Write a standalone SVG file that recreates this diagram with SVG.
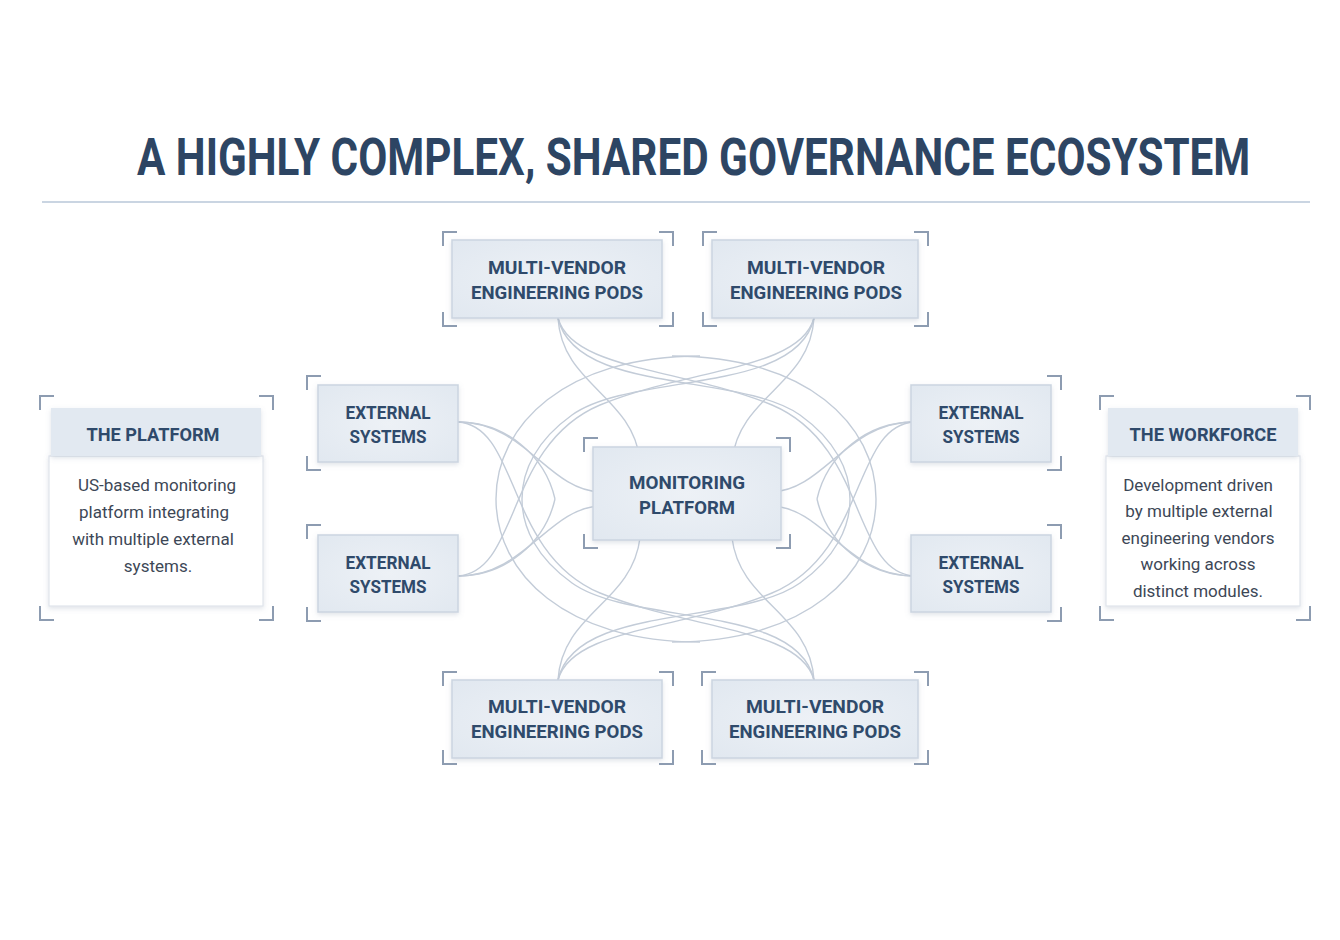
<svg xmlns="http://www.w3.org/2000/svg" xmlns:xlink="http://www.w3.org/1999/xlink" width="1340" height="940" viewBox="0 0 1340 940">
<defs>
<style>
.title{font-family:Roboto,"Liberation Sans",sans-serif;font-weight:700;font-size:52px;fill:#2d4563}
.lbl{font-family:Roboto,"Liberation Sans",sans-serif;font-weight:700;font-size:19px;fill:#2f4a6b;text-anchor:middle}
.body{font-family:Roboto,"Liberation Sans",sans-serif;font-size:17px;fill:#3d4756;text-anchor:middle}
.box{fill:url(#g1);stroke:#cbd5e1;stroke-width:1.5}
.hdr{fill:#e2e9f1;stroke:none}
.card{fill:#ffffff;stroke:#dfe5ec;stroke-width:1.2}
.br{fill:none;stroke:#8d9cb1;stroke-width:2}
.cn{fill:none;stroke:#c3ccd8;stroke-width:1.4}
</style>
<radialGradient id="g1" cx="50%" cy="50%" r="70%">
<stop offset="0" stop-color="#edf1f6"/>
<stop offset="1" stop-color="#e1e8f0"/>
</radialGradient>
<filter id="sh" x="-10%" y="-10%" width="120%" height="130%">
<feDropShadow dx="0" dy="2" stdDeviation="2.5" flood-color="#7d8ea5" flood-opacity="0.25"/>
</filter>
</defs>
<rect width="1340" height="940" fill="#ffffff"/>

<g id="title">
<text class="title" transform="translate(137,175) scale(0.9,1)" x="0" y="0" textLength="1237" lengthAdjust="spacingAndGlyphs">A HIGHLY COMPLEX, SHARED GOVERNANCE ECOSYSTEM</text>
<line x1="42" y1="202" x2="1310" y2="202" stroke="#b9c7d9" stroke-width="1.5"/>
</g>

<g id="connectors">
<g id="q1">
<path class="cn" d="M558,318 C562,385 632,395 640,460"/>
<path class="cn" d="M458,422 C525,422 548,490 600,492"/>
<path class="cn" d="M700,356 C565,356 496,425 496,499"/>
<path class="cn" d="M458,576 C520,572 505,445 600,405 C690,368 800,370 814,318"/>
<path class="cn" d="M558,318 C575,395 740,372 800,415 C835,440 850,470 850,499"/>
<path class="cn" d="M458,422 C505,422 545,455 555,499"/>
</g>
<use xlink:href="#q1" href="#q1" transform="matrix(-1 0 0 1 1372 0)"/>
<use xlink:href="#q1" href="#q1" transform="matrix(1 0 0 -1 0 998)"/>
<use xlink:href="#q1" href="#q1" transform="matrix(-1 0 0 -1 1372 998)"/>
</g>

<g id="pods-top-left">
<rect class="box" x="452" y="240" width="210" height="78" filter="url(#sh)"/>
<path class="br" d="M443,246 V232 H457 M659,232 H673 V246 M443,312 V326 H457 M659,326 H673 V312"/>
<text class="lbl" x="557" y="274" textLength="138" lengthAdjust="spacingAndGlyphs">MULTI-VENDOR</text>
<text class="lbl" x="557" y="299" textLength="172" lengthAdjust="spacingAndGlyphs">ENGINEERING PODS</text>
</g>
<g id="pods-top-right">
<rect class="box" x="712" y="240" width="206" height="78" filter="url(#sh)"/>
<path class="br" d="M703,246 V232 H717 M914,232 H928 V246 M703,312 V326 H717 M914,326 H928 V312"/>
<text class="lbl" x="816" y="274" textLength="138" lengthAdjust="spacingAndGlyphs">MULTI-VENDOR</text>
<text class="lbl" x="816" y="299" textLength="172" lengthAdjust="spacingAndGlyphs">ENGINEERING PODS</text>
</g>
<g id="pods-bottom-left">
<rect class="box" x="452" y="680" width="210" height="78" filter="url(#sh)"/>
<path class="br" d="M443,686 V672 H457 M659,672 H673 V686 M443,750 V764 H457 M659,764 H673 V750"/>
<text class="lbl" x="557" y="713" textLength="138" lengthAdjust="spacingAndGlyphs">MULTI-VENDOR</text>
<text class="lbl" x="557" y="738" textLength="172" lengthAdjust="spacingAndGlyphs">ENGINEERING PODS</text>
</g>
<g id="pods-bottom-right">
<rect class="box" x="712" y="680" width="206" height="78" filter="url(#sh)"/>
<path class="br" d="M702,686 V672 H716 M914,672 H928 V686 M702,750 V764 H716 M914,764 H928 V750"/>
<text class="lbl" x="815" y="713" textLength="138" lengthAdjust="spacingAndGlyphs">MULTI-VENDOR</text>
<text class="lbl" x="815" y="738" textLength="172" lengthAdjust="spacingAndGlyphs">ENGINEERING PODS</text>
</g>

<g id="ext-left-top">
<rect class="box" x="318" y="385" width="140" height="77" filter="url(#sh)"/>
<path class="br" d="M321,376 H307 V390 M307,456 V470 H321"/>
<text class="lbl" x="388" y="419" textLength="85" lengthAdjust="spacingAndGlyphs">EXTERNAL</text>
<text class="lbl" x="388" y="443" textLength="77" lengthAdjust="spacingAndGlyphs">SYSTEMS</text>
</g>
<g id="ext-left-bottom">
<rect class="box" x="318" y="535" width="140" height="77" filter="url(#sh)"/>
<path class="br" d="M321,525 H307 V539 M307,607 V621 H321"/>
<text class="lbl" x="388" y="569" textLength="85" lengthAdjust="spacingAndGlyphs">EXTERNAL</text>
<text class="lbl" x="388" y="593" textLength="77" lengthAdjust="spacingAndGlyphs">SYSTEMS</text>
</g>
<g id="ext-right-top">
<rect class="box" x="911" y="385" width="140" height="77" filter="url(#sh)"/>
<path class="br" d="M1047,376 H1061 V390 M1061,456 V470 H1047"/>
<text class="lbl" x="981" y="419" textLength="85" lengthAdjust="spacingAndGlyphs">EXTERNAL</text>
<text class="lbl" x="981" y="443" textLength="77" lengthAdjust="spacingAndGlyphs">SYSTEMS</text>
</g>
<g id="ext-right-bottom">
<rect class="box" x="911" y="535" width="140" height="77" filter="url(#sh)"/>
<path class="br" d="M1047,525 H1061 V539 M1061,607 V621 H1047"/>
<text class="lbl" x="981" y="569" textLength="85" lengthAdjust="spacingAndGlyphs">EXTERNAL</text>
<text class="lbl" x="981" y="593" textLength="77" lengthAdjust="spacingAndGlyphs">SYSTEMS</text>
</g>

<g id="monitoring-platform">
<rect class="box" x="593" y="447" width="188" height="93" filter="url(#sh)"/>
<path class="br" d="M584,452 V438 H598 M776,438 H790 V452 M584,534 V548 H598 M776,548 H790 V534"/>
<text class="lbl" x="687" y="489" textLength="116" lengthAdjust="spacingAndGlyphs">MONITORING</text>
<text class="lbl" x="687" y="514" textLength="96" lengthAdjust="spacingAndGlyphs">PLATFORM</text>
</g>

<g id="the-platform">
<rect class="card" x="49" y="456" width="214" height="150" filter="url(#sh)"/>
<rect class="hdr" x="51" y="408" width="210" height="48" filter="url(#sh)"/>
<path class="br" d="M40,410 V396 H54 M259,396 H273 V410 M40,606 V620 H54 M259,620 H273 V606"/>
<text class="lbl" x="153" y="441" textLength="133" lengthAdjust="spacingAndGlyphs">THE PLATFORM</text>
<text class="body" x="157" y="491">US-based monitoring</text>
<text class="body" x="154" y="518">platform integrating</text>
<text class="body" x="153" y="545">with multiple external</text>
<text class="body" x="158" y="572">systems.</text>
</g>

<g id="the-workforce">
<rect class="card" x="1106" y="456" width="194" height="150" filter="url(#sh)"/>
<rect class="hdr" x="1108" y="408" width="190" height="48" filter="url(#sh)"/>
<path class="br" d="M1100,410 V396 H1114 M1296,396 H1310 V410 M1100,606 V620 H1114 M1296,620 H1310 V606"/>
<text class="lbl" x="1203" y="441" textLength="147" lengthAdjust="spacingAndGlyphs">THE WORKFORCE</text>
<text class="body" x="1198" y="491">Development driven</text>
<text class="body" x="1199" y="517">by multiple external</text>
<text class="body" x="1198" y="544">engineering vendors</text>
<text class="body" x="1198" y="570">working across</text>
<text class="body" x="1198" y="597">distinct modules.</text>
</g>
</svg>
